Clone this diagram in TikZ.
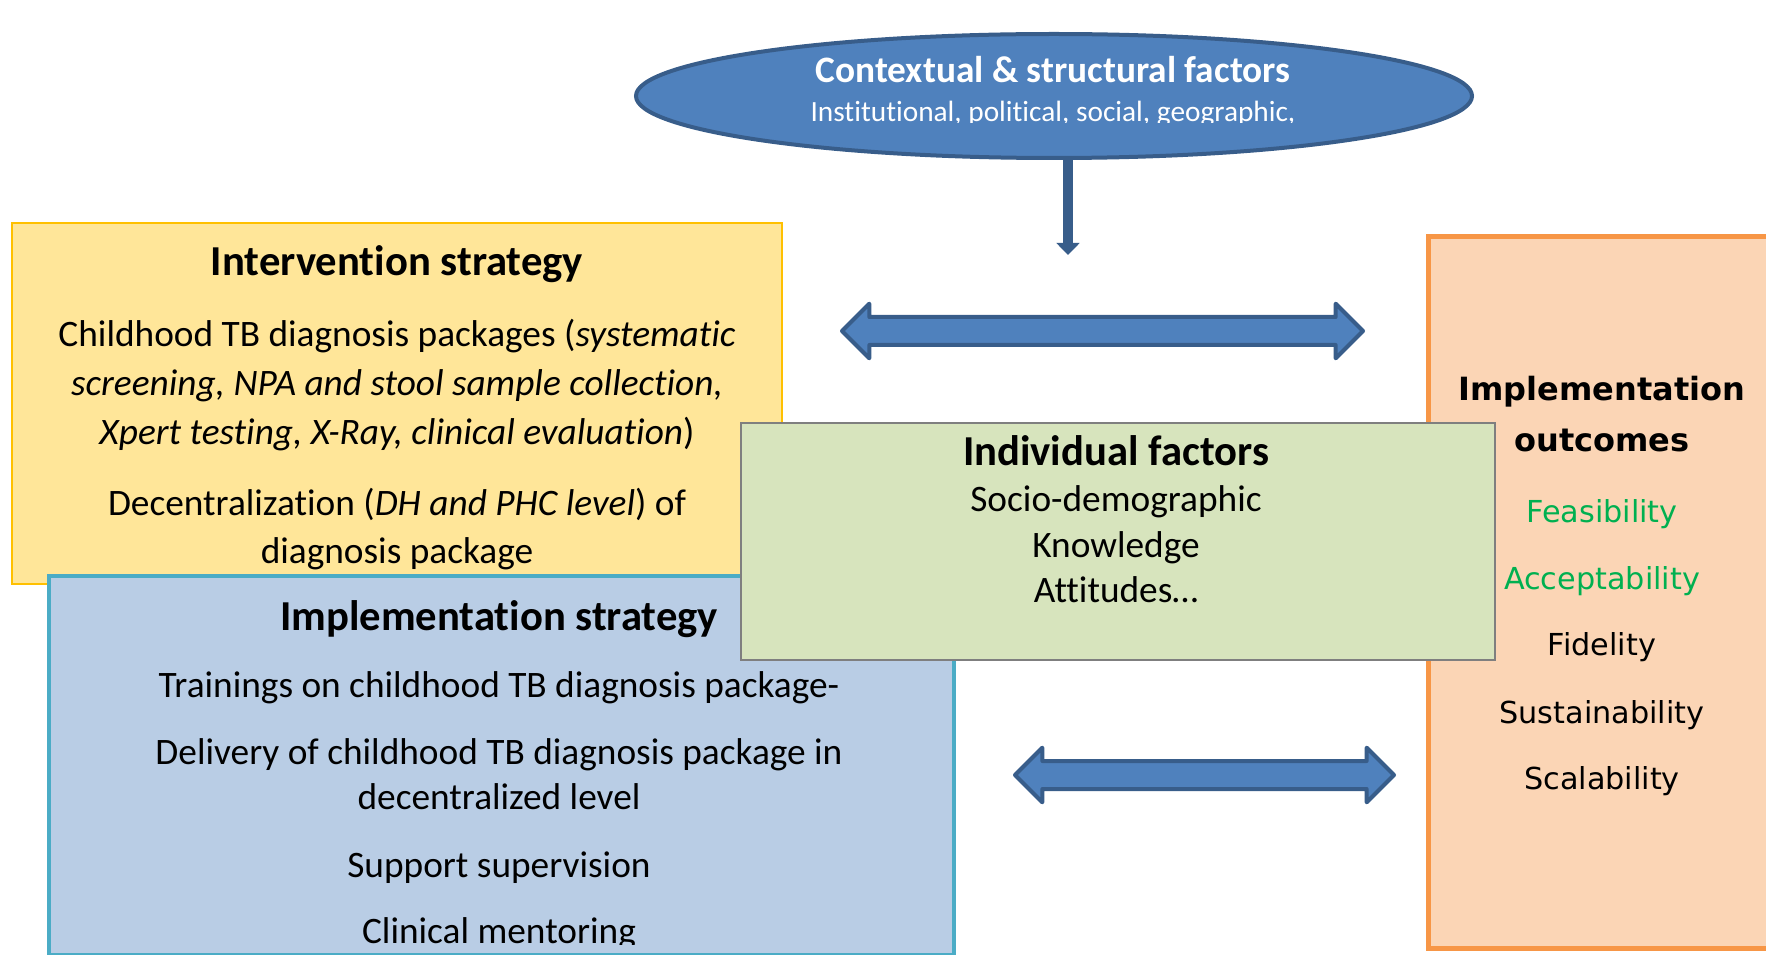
\documentclass[tikz,border=0pt]{standalone}
\usepackage{fontspec}
\setmainfont{Carlito}[Ligatures=NoCommon]
\newfontfamily\outfont{DejaVu Sans}
\usetikzlibrary{shapes.geometric,shapes.arrows,arrows.meta}
\definecolor{ablue}{HTML}{4F81BD}
\definecolor{dblue}{HTML}{385D8A}
\definecolor{yfill}{HTML}{FFE699}
\definecolor{yline}{HTML}{FFC000}
\definecolor{bfill}{HTML}{B9CDE5}
\definecolor{bline}{HTML}{4BACC6}
\definecolor{gfill}{HTML}{D7E4BD}
\definecolor{gline}{HTML}{7F7F7F}
\definecolor{ofill}{HTML}{FBD5B5}
\definecolor{oline}{HTML}{F79646}
\definecolor{okgreen}{HTML}{00B050}
\begin{document}
\begin{tikzpicture}[x=0.75pt,y=-0.75pt,
  boxbase/.style={rectangle, anchor=north west, inner sep=0pt},
  ybox/.style={boxbase, fill=yfill, draw=yline, line width=1.8pt},
  bbox/.style={boxbase, fill=bfill, draw=bline, line width=3pt},
  gbox/.style={boxbase, fill=gfill, draw=gline, line width=1.5pt},
  obox/.style={boxbase, fill=ofill, draw=oline, line width=3.6pt},
  head/.style={anchor=base, inner sep=0pt, font=\fontsize{32}{38}\selectfont\bfseries},
  body/.style={anchor=base, inner sep=0pt, font=\fontsize{28}{34}\selectfont},
  ohead/.style={anchor=base, inner sep=0pt, font=\outfont\fontsize{24}{29}\selectfont\bfseries},
  obody/.style={anchor=base, inner sep=0pt, font=\outfont\fontsize{22.7}{27}\selectfont},
  barrow/.style={double arrow, draw=dblue, fill=ablue, line width=3pt, line join=round,
    inner xsep=0pt, inner ysep=9pt, double arrow head extend=10pt, double arrow tip angle=90},
]
\useasboundingbox (0,0) rectangle (1766,955);
\fill[white] (0,0) rectangle (1766,955);

% boxes
\node[ybox, minimum width=577.5pt, minimum height=270.75pt] (yel) at (11,222) {};
\node[obox, minimum width=285pt, minimum height=534pt] (ora) at (1426,234) {};
\node[bbox, minimum width=678.75pt, minimum height=284.25pt] (blu) at (47,574) {};
\node[gbox, minimum width=565.5pt, minimum height=177.75pt] (gre) at (740,422) {};

% ellipse
\node[ellipse, draw=dblue, fill=ablue, line width=3pt, minimum width=627pt, minimum height=93pt, inner sep=0pt] (ctx) at (1054,96) {};
\node[anchor=base, inner sep=0pt, text=white, font=\fontsize{28}{33}\selectfont\bfseries] (ctxt) at (1053,83) {Contextual \& structural factors};
\begin{scope}
\clip (700,90) rectangle (1400,123);
\node[anchor=base, inner sep=0pt, text=white, font=\fontsize{22}{26}\selectfont] (ctxs) at (1053,122) {Institutional, political, social, geographic,};
\end{scope}

% vertical arrow
\coordinate (ctxend) at (1068,255);
\draw[dblue, line width=7pt, -{Triangle[width=17pt,length=9pt]}] ([yshift=1.5pt]ctx.south -| ctxend) -- (ctxend);

% double arrows
\node[barrow, minimum height=390.75pt] (arrtop) at (1102.5,331) {};
\node[barrow, minimum height=284.25pt] (arrbot) at (1204.5,775) {};

% intervention strategy
\node[head] (yh) at (397,276) {Intervention strategy};
\node[body] (y1) at (397,347) {Childhood TB diagnosis packages (\textit{systematic}};
\node[body] (y2) at (397,396) {\textit{screening, NPA and stool sample collection,}};
\node[body] (y3) at (397,444) {\textit{Xpert testing, X-Ray, clinical evaluation})};
\node[body] (y4) at (397,515) {Decentralization (\textit{DH and PHC level}) of};
\node[body] (y5) at (397,563) {diagnosis package};

% implementation strategy
\node[head] (bh) at (499,630) {Implementation strategy};
\node[body] (b1) at (499,697) {Trainings on childhood TB diagnosis package-};
\node[body] (b2) at (499,764) {Delivery of childhood TB diagnosis package in};
\node[body] (b3) at (499,809) {decentralized level};
\node[body] (b4) at (499,877) {Support supervision};
\begin{scope}
\clip (40,880) rectangle (960,944);
\node[body] (b5) at (499,943) {Clinical mentoring};
\end{scope}

% individual factors
\node[head] (gh) at (1116,465) {Individual factors};
\node[body] (g1) at (1116,511) {Socio-demographic};
\node[body] (g2) at (1116,557) {Knowledge};
\node[body] (g3) at (1116,602) {Attitudes…};

% implementation outcomes
\node[ohead] (oh1) at (1602,400) {Implementation};
\node[ohead] (oh2) at (1602,451) {outcomes};
\node[obody, text=okgreen] (o1) at (1602,522) {Feasibility};
\node[obody, text=okgreen] (o2) at (1602,589) {Acceptability};
\node[obody] (o3) at (1602,655) {Fidelity};
\node[obody] (o4) at (1602,723) {Sustainability};
\node[obody] (o5) at (1602,789) {Scalability};
\end{tikzpicture}
\end{document}
